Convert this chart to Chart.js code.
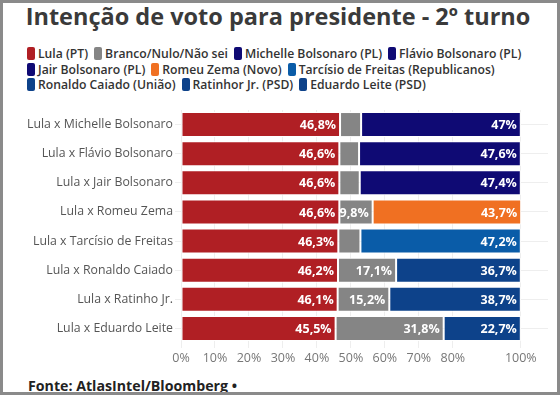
<!DOCTYPE html>
<html>
<head>
<meta charset="utf-8">
<script src="https://cdn.jsdelivr.net/npm/chart.js@4"></script>
<style>
  html, body { margin: 0; padding: 0; background: #fff; }
  #frame {
    position: absolute; left: 0; top: 0; width: 554px; height: 389px;
    border: 3px solid #8a8a8a; background: #fff; overflow: hidden;
  }
  #title {
    position: absolute; left: 0; top: -3px; width: 550px; text-align: center;
    font-family: "Open Sans", sans-serif; font-weight: 700; font-size: 23.5px;
    color: #3a3a3a; white-space: nowrap;
  }
  #legend {
    position: absolute; left: 24px; top: 43px; width: 530px;
    font-family: "Open Sans", sans-serif; font-weight: 600; font-size: 12.2px;
    color: #333; white-space: nowrap;
  }
  .row { display: flex; align-items: center; height: 15.5px; }
  .item { display: flex; align-items: center; margin-right: 6px; }
  .box {
    display: inline-block; width: 8px; height: 13px; border-radius: 2px;
    margin-right: 3px;
  }
  #wrap { position: absolute; left: 0; top: 97px; width: 545px; height: 269px; }
  #footer {
    position: absolute; left: 25px; top: 373px;
    font-family: "Open Sans", sans-serif; font-weight: 700; font-size: 14.2px; color: #222;
  }
</style>
</head>
<body>
<div id="frame">
  <div id="title">Intenção de voto para presidente - 2º turno</div>
  <div id="legend"></div>
  <div id="wrap"><canvas id="chart"></canvas></div>
  <div id="footer">Fonte: AtlasIntel/Bloomberg •</div>
</div>
<script>
// scenarios (rows)
var categories = [
  "Lula x Michelle Bolsonaro",
  "Lula x Flávio Bolsonaro",
  "Lula x Jair Bolsonaro",
  "Lula x Romeu Zema",
  "Lula x Tarcísio de Freitas",
  "Lula x Ronaldo Caiado",
  "Lula x Ratinho Jr.",
  "Lula x Eduardo Leite"
];

var lula    = [46.8, 46.6, 46.6, 46.6, 46.3, 46.2, 46.1, 45.5];
var branco  = [6.2, 5.8, 6.0, 9.8, 6.5, 17.1, 15.2, 31.8];
// opponent value for each row
var opponent = [47, 47.6, 47.4, 43.7, 47.2, 36.7, 38.7, 22.7];

var seriesNames = [
  "Lula (PT)", "Branco/Nulo/Não sei", "Michelle Bolsonaro (PL)", "Flávio Bolsonaro (PL)",
  "Jair Bolsonaro (PL)", "Romeu Zema (Novo)", "Tarcísio de Freitas (Republicanos)",
  "Ronaldo Caiado (União)", "Ratinhor Jr. (PSD)", "Eduardo Leite (PSD)"
];
var seriesColors = [
  "#b01f24", "#858585", "#0f0a74", "#0f0a74",
  "#0f0a74", "#f07022", "#0a5ca8",
  "#0d428a", "#0d428a", "#0d428a"
];

var xTicks = [0, 10, 20, 30, 40, 50, 60, 70, 80, 100];
var legendBreaks = [0, 4, 7];

function fmt(v) {
  return String(v).replace(".", ",") + "%";
}

var datasets = [];
datasets.push({ label: seriesNames[0], data: lula, backgroundColor: seriesColors[0] });
datasets.push({ label: seriesNames[1], data: branco, backgroundColor: seriesColors[1] });
for (var i = 0; i < opponent.length; i++) {
  var d = categories.map(function (c, j) { return j === i ? opponent[i] : null; });
  datasets.push({ label: seriesNames[i + 2], data: d, backgroundColor: seriesColors[i + 2] });
}
datasets.forEach(function (ds) {
  ds.borderColor = "#fff";
  ds.borderWidth = 1;
  ds.borderSkipped = false;
  ds.barPercentage = 0.86;
  ds.categoryPercentage = 1;
});

// html legend, three rows
var leg = document.getElementById("legend");
var row;
seriesNames.forEach(function (n, i) {
  if (legendBreaks.indexOf(i) >= 0) {
    row = document.createElement("div");
    row.className = "row";
    leg.appendChild(row);
  }
  var s = document.createElement("span");
  s.className = "item";
  s.innerHTML = '<span class="box" style="background:' + seriesColors[i] + '"></span>' + n;
  row.appendChild(s);
});

var barLabels = {
  id: "barLabels",
  afterDatasetsDraw: function (chart) {
    var ctx = chart.ctx;
    ctx.save();
    ctx.font = "bold 12.5px 'Open Sans', sans-serif";
    ctx.fillStyle = "#fff";
    ctx.textAlign = "right";
    ctx.textBaseline = "middle";
    chart.data.datasets.forEach(function (ds, di) {
      var meta = chart.getDatasetMeta(di);
      meta.data.forEach(function (bar, j) {
        var v = ds.data[j];
        if (v == null || v < 9) return;
        ctx.fillText(fmt(v), bar.x - 4, bar.y + 1);
      });
    });
    ctx.restore();
  }
};

new Chart(document.getElementById("chart"), {
  type: "bar",
  data: { labels: categories, datasets: datasets },
  plugins: [barLabels],
  options: {
    indexAxis: "y",
    responsive: true,
    maintainAspectRatio: false,
    animation: false,
    layout: { padding: { left: 0, right: 0, top: 10, bottom: 0 } },
    plugins: { legend: { display: false }, tooltip: { enabled: false } },
    scales: {
      x: {
        stacked: true,
        min: 0,
        max: 108,
        afterBuildTicks: function (axis) {
          axis.ticks = xTicks.map(function (v) { return { value: v }; });
        },
        grid: { color: "#eeeeee", drawOnChartArea: true, tickLength: 5 },
        border: { display: false },
        ticks: {
          color: "#777",
          font: { family: "Open Sans", size: 12.5 },
          padding: 3,
          callback: function (v) { return v + "%"; }
        }
      },
      y: {
        stacked: true,
        grid: { color: "#eeeeee", offset: false, drawTicks: true, tickLength: 6 },
        border: { display: false },
        ticks: {
          color: "#555",
          font: { family: "Open Sans", size: 12.3 },
          padding: 2
        },
        afterFit: function (axis) { axis.width = 178; }
      }
    }
  }
});
</script>
</body>
</html>
